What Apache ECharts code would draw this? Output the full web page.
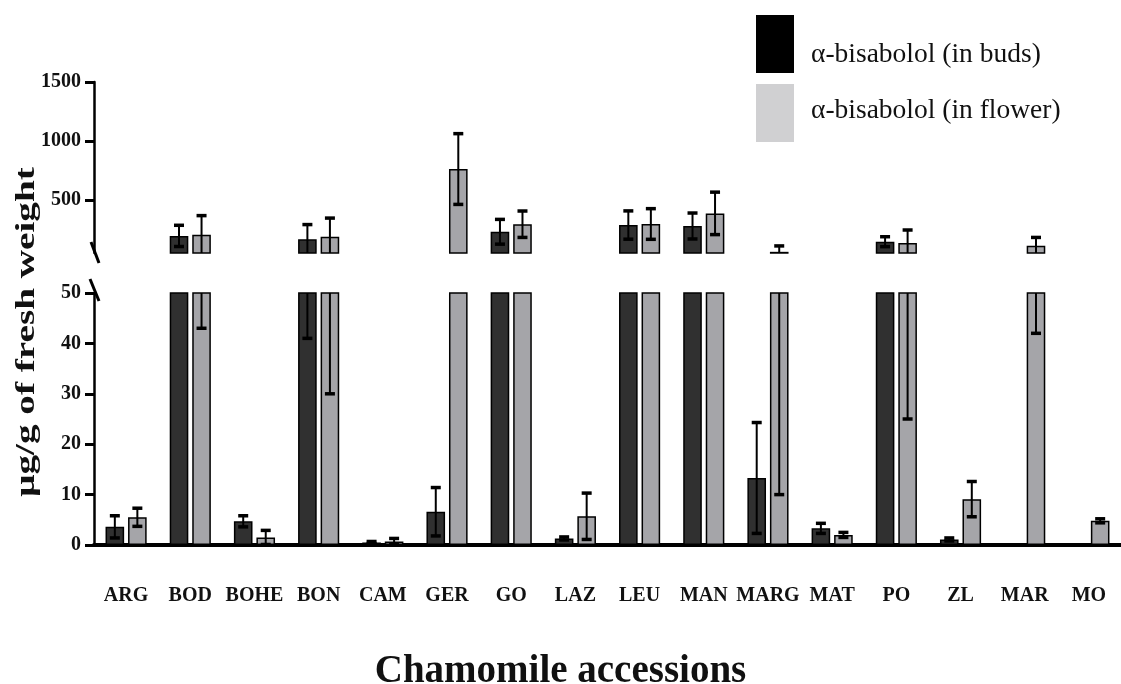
<!DOCTYPE html>
<html><head><meta charset="utf-8">
<script src="https://cdn.jsdelivr.net/npm/echarts@6/dist/echarts.min.js"></script>
<style>html,body{margin:0;padding:0;background:#fff}#c{width:1121px;height:684px}</style>
</head><body><div id="c"></div>
<script>
// ---------- data ----------
const categories = ['ARG','BOD','BOHE','BON','CAM','GER','GO','LAZ','LEU','MAN','MARG','MAT','PO','ZL','MAR','MO'];
const budsMean   = [3.6, 195, 4.7, 166, 0.5, 6.6, 230, 1.3, 287, 279, 13.3, 3.3, 146, 1.1, 0, 0];
const budsSD     = [2.2,  90, 1.1, 125, 0.2, 4.8, 105, 0.3, 120, 110, 11.0, 1.0,  42, 0.3, 0, 0];
const flowerMean = [5.5, 205, 1.5, 188, 0.7, 762, 294, 5.7, 296, 386, 60, 2.0, 135, 9.1, 112, 4.8];
const flowerSD   = [1.8, 162, 1.4, 158, 0.6, 300, 112, 4.6, 130, 180, 50, 0.5, 110, 3.5,  70, 0.4];
const lowerTicks = [0, 10, 20, 30, 40, 50];
const upperTicks = [500, 1000, 1500];
const BREAK = 50;
const seriesNames = ['α-bisabolol (in buds)', 'α-bisabolol (in flower)'];

// ---------- style / layout ----------
const SERIF = "'Liberation Serif','Times New Roman',serif";
const BAR_W = 0.29, BAR_GAP = 0.21;
const BUDS_FILL = '#303030', FLOWER_FILL = '#a5a5a9';
const L = 94, W = 1034;
const UP_TOP = 82, UP_BOT = 253, LO_TOP = 293, LO_BOT = 545;

function errSeries(mean, sd, side, gi) {
  return {
    type: 'custom', name: 'err' + side + gi, xAxisIndex: gi, yAxisIndex: gi, z: 5, silent: true,
    data: mean.map((m, i) => [i, m, sd[i]]), encode: { x: 0, y: 1 },
    renderItem(params, api) {
      const i = api.value(0), m = api.value(1), s = api.value(2);
      if (!s) return;
      const cs = params.coordSys;
      const band = api.size([1, 0])[0];
      const w = band * BAR_W;
      const cx = api.coord([i, m])[0] + side * (w + w * BAR_GAP) / 2;
      const yHi = api.coord([i, m + s])[1], yLo = api.coord([i, m - s])[1];
      const top = cs.y, bot = cs.y + cs.height;
      if (yHi > bot + 0.5 || yLo < top - 0.5) return;
      const y1 = Math.max(yHi, top), y2 = Math.min(yLo, bot);
      const ch = [{ type: 'line', shape: { x1: cx, y1: y1, x2: cx, y2: y2 }, style: { stroke: '#000', lineWidth: 2 } }];
      const hw = 5;
      if (yHi >= top - 0.5) ch.push({ type: 'line', shape: { x1: cx - hw, y1: yHi, x2: cx + hw, y2: yHi }, style: { stroke: '#000', lineWidth: 3.5 } });
      if (yLo <= bot + 0.5) ch.push({ type: 'line', shape: { x1: cx - hw, y1: yLo, x2: cx + hw, y2: yLo }, style: { stroke: '#000', lineWidth: 3.5 } });
      return { type: 'group', children: ch };
    }
  };
}
function barSeries(name, data, fill, gi) {
  return {
    type: 'bar', name, xAxisIndex: gi, yAxisIndex: gi, data, clip: true,
    barWidth: (BAR_W * 100) + '%', barGap: (BAR_GAP * 100) + '%',
    itemStyle: { color: fill, borderColor: '#000', borderWidth: 1.5 }, silent: true
  };
}
const upper = arr => arr.map(v => v > BREAK ? v : '-');
const plain = v => String(v);

const chart = echarts.init(document.getElementById('c'), null, { renderer: 'canvas' });
chart.setOption({
  animation: false,
  backgroundColor: '#fff',
  title: { text: 'Chamomile accessions', left: 'center', top: 647,
    textStyle: { fontFamily: SERIF, fontWeight: 'bold', fontSize: 39, color: '#111' } },
  legend: {
    orient: 'vertical', left: 756, top: 15, padding: 0, itemWidth: 38, itemHeight: 58, itemGap: 11,
    icon: 'rect', selectedMode: false,
    formatter: name => name === seriesNames[0] ? '{a|' + name + '}' : '{b|' + name + '}',
    textStyle: { fontFamily: SERIF, fontSize: 27.5, color: '#111',
      rich: {
        a: { fontFamily: SERIF, fontSize: 27.5, color: '#111', padding: [22, 0, 0, 12] },
        b: { fontFamily: SERIF, fontSize: 27.5, color: '#111', padding: [0, 0, 4, 12] }
      } },
    data: [
      { name: seriesNames[0], itemStyle: { color: '#000', borderWidth: 0 } },
      { name: seriesNames[1], itemStyle: { color: '#d0d0d2', borderWidth: 0 } }
    ]
  },
  grid: [
    { left: L, width: W, top: LO_TOP, height: LO_BOT - LO_TOP },
    { left: L, width: W, top: UP_TOP, height: UP_BOT - UP_TOP }
  ],
  xAxis: [
    { type: 'category', gridIndex: 0, data: categories,
      axisLine: { lineStyle: { color: '#000', width: 4 } },
      axisTick: { alignWithLabel: true, length: 17, lineStyle: { color: '#000', width: 2 } },
      axisLabel: { fontFamily: SERIF, fontWeight: 'bold', fontSize: 20, color: '#111', margin: 41, interval: 0 } },
    { type: 'category', gridIndex: 1, data: categories,
      axisLine: { show: false }, axisTick: { show: false }, axisLabel: { show: false } }
  ],
  yAxis: [
    { type: 'value', gridIndex: 0, min: lowerTicks[0], max: lowerTicks[lowerTicks.length - 1], interval: 10,
      splitLine: { show: false },
      axisLine: { show: true, lineStyle: { color: '#000', width: 2.5 } },
      axisTick: { show: true, length: 9, lineStyle: { color: '#000', width: 3 } },
      axisLabel: { fontFamily: SERIF, fontWeight: 'bold', fontSize: 20, color: '#111', margin: 13, formatter: plain } },
    { type: 'value', gridIndex: 1, min: BREAK, max: upperTicks[upperTicks.length - 1],
      splitLine: { show: false },
      axisLine: { show: true, lineStyle: { color: '#000', width: 2.5 } },
      axisTick: { show: true, length: 9, customValues: upperTicks, lineStyle: { color: '#000', width: 3 } },
      axisLabel: { fontFamily: SERIF, fontWeight: 'bold', fontSize: 20, color: '#111', margin: 13, customValues: upperTicks, formatter: plain } }
  ],
  graphic: [
    { type: 'line', shape: { x1: L - 3, y1: UP_BOT - 11, x2: L + 5, y2: UP_BOT + 10 }, style: { stroke: '#000', lineWidth: 3 } },
    { type: 'line', shape: { x1: L - 4, y1: LO_TOP - 14, x2: L + 5, y2: LO_TOP + 8 }, style: { stroke: '#000', lineWidth: 3 } },
    { type: 'text', x: 27, y: 332, rotation: Math.PI / 2, scaleX: 1.4,
      style: { text: 'μg/g of fresh weight', fontFamily: SERIF, fontWeight: 'bold', fontSize: 28, fill: '#111',
        textAlign: 'center', textVerticalAlign: 'middle' } }
  ],
  series: [
    barSeries(seriesNames[0], budsMean, BUDS_FILL, 0),
    barSeries(seriesNames[1], flowerMean, FLOWER_FILL, 0),
    barSeries(seriesNames[0], upper(budsMean), BUDS_FILL, 1),
    barSeries(seriesNames[1], upper(flowerMean), FLOWER_FILL, 1),
    errSeries(budsMean, budsSD, -1, 0),
    errSeries(flowerMean, flowerSD, 1, 0),
    errSeries(budsMean, budsSD, -1, 1),
    errSeries(flowerMean, flowerSD, 1, 1)
  ]
});
</script></body></html>
